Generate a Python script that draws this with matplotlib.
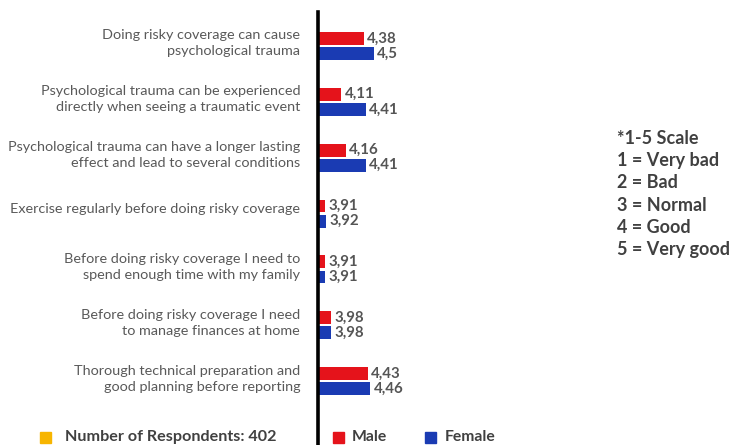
import matplotlib
matplotlib.use("Agg")
import matplotlib.pyplot as plt
import numpy as np

statements = [
    "Doing risky coverage can cause\npsychological trauma",
    "Psychological trauma can be experienced\ndirectly when seeing a traumatic event",
    "Psychological trauma can have a longer lasting\neffect and lead to several conditions",
    "Exercise regularly before doing risky coverage",
    "Before doing risky coverage I need to\nspend enough time with my family",
    "Before doing risky coverage I need\nto manage finances at home",
    "Thorough technical preparation and\ngood planning before reporting",
]
male = [4.38, 4.11, 4.16, 3.91, 3.91, 3.98, 4.43]
female = [4.50, 4.41, 4.41, 3.92, 3.91, 3.98, 4.46]
scale_notes = ["*1-5 Scale", "1 = Very bad", "2 = Bad", "3 = Normal", "4 = Good", "5 = Very good"]
respondents = 402

red = "#e5131b"
blue = "#1a3bb3"
orange = "#f7b500"
text_grey = "#595959"
dark_grey = "#404040"
value_grey = "#555555"

plt.rcParams["font.family"] = ["Lato", "DejaVu Sans"]

fig = plt.figure(figsize=(7.36, 4.45), dpi=100)
ax = fig.add_axes([317.5 / 736, 0.0, 1 - 317.5 / 736, 1 - 12 / 445])

y = np.arange(len(statements))
h = 0.23
off = 0.135
ax.barh(y - off, male, height=h, left=0, color=red, zorder=2)
ax.barh(y + off, female, height=h, left=0, color=blue, zorder=2)


def fmt(v):
    return f"{v:.2f}".rstrip("0").replace(".", ",")


for yi, v in zip(y, male):
    ax.text(v + 0.04, yi - off, fmt(v), va="center", ha="left",
            fontsize=10.8, color=value_grey, fontweight="bold")
for yi, v in zip(y, female):
    ax.text(v + 0.04, yi + off, fmt(v), va="center", ha="left",
            fontsize=10.8, color=value_grey, fontweight="bold")

ax.set_xlim(3.82, 8.9)
ax.set_ylim(len(statements) - 1 + 1.14, -0.606)
ax.set_xticks([])
ax.set_yticks(y - 0.1)
ax.set_yticklabels(statements, fontsize=10.4, color=text_grey, ha="right", linespacing=1.42)
ax.tick_params(axis="y", length=0, pad=12.5)
for s in ["top", "right", "bottom"]:
    ax.spines[s].set_visible(False)
ax.spines["left"].set_linewidth(2.6)
ax.spines["left"].set_color("black")
ax.spines["left"].set_zorder(3)

# scale note on the right
for i, line in enumerate(scale_notes):
    fig.text(617 / 736, 1 - (138 + 22.4 * i) / 445, line, fontsize=13,
             fontweight="bold", color=dark_grey, va="center", ha="left")

# bottom legend row
yb = 1 - 437 / 445
fig.patches.append(plt.Rectangle((40 / 736, yb - 5.5 / 445), 11 / 736, 11 / 445,
                                 transform=fig.transFigure, color=orange))
fig.text(65 / 736, yb, f"Number of Respondents: {respondents}", fontsize=11.6,
         fontweight="bold", color=dark_grey, va="center", ha="left")
fig.patches.append(plt.Rectangle((333 / 736, yb - 5.5 / 445), 11 / 736, 11 / 445,
                                 transform=fig.transFigure, color=red))
fig.text(352 / 736, yb, "Male", fontsize=11.3, fontweight="bold",
         color=dark_grey, va="center", ha="left")
fig.patches.append(plt.Rectangle((425 / 736, yb - 5.5 / 445), 11 / 736, 11 / 445,
                                 transform=fig.transFigure, color=blue))
fig.text(445 / 736, yb, "Female", fontsize=11.3, fontweight="bold",
         color=dark_grey, va="center", ha="left")

fig.savefig("out.png", dpi=100)
